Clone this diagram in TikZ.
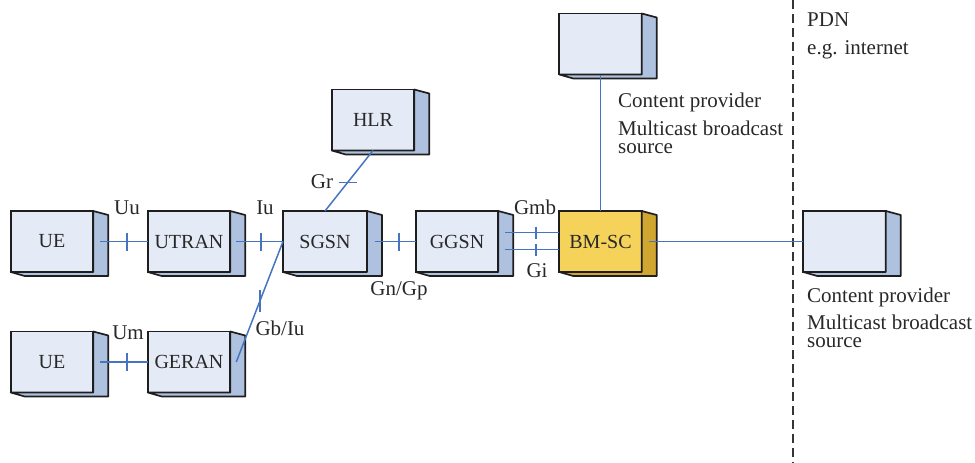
\documentclass[tikz,border=0pt]{standalone}
\usepackage{fontspec}
\setmainfont{Liberation Serif}
\usetikzlibrary{calc}
\definecolor{frontc}{RGB}{228,234,246}
\definecolor{sidec}{RGB}{174,194,224}
\definecolor{yfront}{RGB}{245,211,90}
\definecolor{yside}{RGB}{208,165,48}
\definecolor{edgec}{RGB}{30,30,30}
\definecolor{connc}{RGB}{70,116,192}
\definecolor{txtc}{RGB}{40,40,40}
\tikzset{
 netbox/.style={draw=edgec, line width=1.7pt, fill=frontc, minimum width=82.5pt, minimum height=61pt, inner sep=0pt, outer sep=0pt, font=\fontsize{20}{24}\selectfont, text=txtc},
 ybox/.style={netbox, fill=yfront},
 conn/.style={draw=connc, line width=1.5pt},
 lbl/.style={font=\fontsize{21}{25}\selectfont, text=txtc, inner sep=0pt},
 lbltwo/.style={font=\fontsize{21}{16}\selectfont, text=txtc, inner sep=0pt, align=left},
 pdnline/.style={draw=edgec!90, line width=1.4pt, dash pattern=on 9pt off 5pt},
}
\newcommand\boxdepth[2]{%
 \filldraw[fill=#2, draw=edgec, line width=1.7pt, line join=round]
   (#1.south west) -- ++(14pt,-4pt) -- ($(#1.south east)+(15pt,-4pt)$) -- ($(#1.north east)+(15pt,-4pt)$) -- (#1.north east) -- (#1.south east) -- cycle;
}
\begin{document}
\begin{tikzpicture}[x=1pt,y=-1pt]
\useasboundingbox (0,0) rectangle (975,463);
% dashed PDN boundary
\coordinate (dtop) at (793,0);
\coordinate (dbot) at (793,463);
\draw[pdnline] (dtop) -- (dbot);
% boxes
\node[netbox] (ue1) at (52,241.5) {UE};
\node[netbox] (utran) at (189,241.5) {UTRAN};
\node[netbox, minimum width=84pt] (sgsn) at (325,241.5) {SGSN};
\node[netbox] (ggsn) at (457,241.5) {GGSN};
\node[ybox] (bmsc) at (600.5,241.5) {BM-SC};
\node[netbox] (cptop) at (600.5,44) {};
\node[netbox] (cpright) at (844.5,241.5) {};
\node[netbox] (hlr) at (373,120) {HLR};
\node[netbox] (ue2) at (52,362) {UE};
\node[netbox] (geran) at (189,362) {GERAN};
\boxdepth{ue1}{sidec}
\boxdepth{utran}{sidec}
\boxdepth{sgsn}{sidec}
\boxdepth{ggsn}{sidec}
\boxdepth{bmsc}{yside}
\boxdepth{cptop}{sidec}
\boxdepth{cpright}{sidec}
\boxdepth{hlr}{sidec}
\boxdepth{ue2}{sidec}
\boxdepth{geran}{sidec}
% connectors
\draw[conn] ([xshift=7pt]ue1.east) -- coordinate[pos=0.56] (t1) (utran.west);
\draw[conn] ([yshift=9pt]t1) -- ([yshift=-9pt]t1);
\draw[conn] ([xshift=6pt]utran.east) -- coordinate[pos=0.53] (t2) (sgsn.west);
\draw[conn] ([yshift=9pt]t2) -- ([yshift=-9pt]t2);
\draw[conn] ([xshift=7pt]ue2.east) -- coordinate[pos=0.56] (t3) (geran.west);
\draw[conn] ([yshift=9pt]t3) -- ([yshift=-9pt]t3);
\draw[conn] ([xshift=6pt]geran.east) -- coordinate[pos=0.51] (t4) (sgsn.west);
\draw[conn] ([yshift=11pt]t4) -- ([yshift=-11pt]t4);
\draw[conn] (hlr.south) -- coordinate[pos=0.53] (t5) (sgsn.north);
\draw[conn] ([xshift=-9pt]t5) -- ([xshift=9pt]t5);
\draw[conn] ([xshift=8pt]sgsn.east) -- coordinate[pos=0.585] (t6) (ggsn.west);
\draw[conn] ([yshift=9pt]t6) -- ([yshift=-9pt]t6);
\draw[conn] ([xshift=7pt,yshift=9pt]ggsn.east) -- coordinate[pos=0.57] (t7) ([yshift=9pt]bmsc.west);
\draw[conn] ([yshift=6pt]t7) -- ([yshift=-6pt]t7);
\draw[conn] ([xshift=7pt,yshift=-8pt]ggsn.east) -- coordinate[pos=0.57] (t8) ([yshift=-8pt]bmsc.west);
\draw[conn] ([yshift=6pt]t8) -- ([yshift=-6pt]t8);
\draw[conn] ([xshift=7pt]bmsc.east) -- (cpright.west);
\draw[conn] (bmsc.north) -- (cptop.south);
% interface labels
\node[lbl] (luu) at (127,208) {Uu};
\node[lbl] (liu) at (265,208) {Iu};
\node[lbl] (lum) at (128,333) {Um};
\node[lbl] (lgb) at (280,328) {Gb/Iu};
\node[lbl] (lgr) at (322,182) {Gr};
\node[lbl] (lgn) at (399,291) {Gn/Gp};
\node[lbl] (lgmb) at (535,207) {Gmb};
\node[lbl] (lgi) at (537,271) {Gi};
% texts
\node[lbl, anchor=base west] (pdn) at (807,27) {PDN};
\node[lbl, anchor=base west] (egi) at (807,54) {e.g. internet};
\node[lbl, anchor=base west] (cp1a) at (618,107) {Content provider};
\node[lbltwo, anchor=base west] (cp1b) at (618,153) {Multicast broadcast\\[2pt]source};
\node[lbl, anchor=base west] (cp2a) at (807,302) {Content provider};
\node[lbltwo, anchor=base west] (cp2b) at (807,347.5) {Multicast broadcast\\[2pt]source};
\end{tikzpicture}
\end{document}
